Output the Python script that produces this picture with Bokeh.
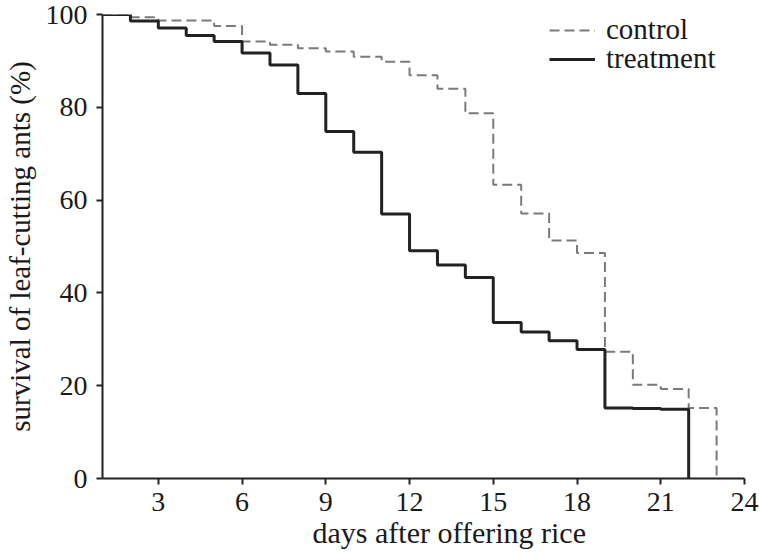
from bokeh.plotting import figure
from bokeh.models import Range1d, FixedTicker, Legend, LegendItem, Title
from bokeh.embed import file_html
from bokeh.resources import INLINE

# survival (%) at the start of each day
days = [1, 2, 3, 4, 5, 6, 7, 8, 9, 10, 11, 12, 13, 14, 15, 16, 17, 18, 19, 20, 21, 22, 23]
control = [100, 99.4, 98.7, 98.7, 97.5, 94.2, 93.5, 92.7, 92.0, 90.9, 89.8, 86.9,
           84.0, 78.7, 63.3, 57.1, 51.3, 48.6, 27.3, 20.2, 19.3, 15.2, 0]
treat_days = [1, 2, 3, 4, 5, 6, 7, 8, 9, 10, 11, 12, 13, 14, 15, 16, 17, 18, 19, 20, 21, 22]
treatment = [100, 98.6, 97.1, 95.5, 94.2, 91.7, 89.1, 83.0, 74.8, 70.3, 57.0, 49.1,
             46.0, 43.3, 33.6, 31.6, 29.7, 27.8, 15.2, 15.1, 14.9, 0]
x_ticks = [3, 6, 9, 12, 15, 18, 21, 24]
y_ticks = [0, 20, 40, 60, 80, 100]

FONT = "Liberation Serif"
TXT = "#1a1a1a"

p = figure(width=759, height=555, output_backend="svg", toolbar_location=None,
           x_range=Range1d(1, 24), y_range=Range1d(0, 100),
           min_border_left=100, min_border_right=15, min_border_top=14, min_border_bottom=77)
p.outline_line_color = None
p.grid.visible = False
p.background_fill_color = "white"

r_c = p.step(days, control, mode="after", line_color="#7a7a7a", line_width=2,
             line_dash="10 5")
r_t = p.step(treat_days, treatment, mode="after", line_color="#222222", line_width=3)

for ax in (p.xaxis[0], p.yaxis[0]):
    ax.axis_line_color = "#222222"
    ax.axis_line_width = 2
    ax.major_tick_line_color = "#222222"
    ax.major_tick_line_width = 2
    ax.major_tick_in = 0
    ax.major_tick_out = 6
    ax.minor_tick_line_color = None
    ax.major_label_text_font = FONT
    ax.major_label_text_font_size = "28px"
    ax.major_label_text_color = TXT
    ax.axis_label_text_font = FONT
    ax.axis_label_text_font_size = "29px"
    ax.axis_label_text_font_style = "normal"
    ax.axis_label_text_color = TXT

p.xaxis.ticker = FixedTicker(ticks=x_ticks)
p.yaxis.ticker = FixedTicker(ticks=y_ticks)
p.xaxis.major_label_standoff = 8
p.yaxis.major_label_standoff = 9
p.yaxis.axis_label = "survival of leaf-cutting ants (%)"
p.yaxis.axis_label_standoff = 7

xtitle = Title(text="days after offering rice", align="left", offset=210,
               standoff=0, text_font=FONT, text_font_size="30px",
               text_font_style="normal", text_color=TXT)
p.add_layout(xtitle, "below")


def make_legend(label, renderer, loc):
    lg = Legend(items=[LegendItem(label=label, renderers=[renderer])], location=loc)
    lg.label_text_font = FONT
    lg.label_text_font_size = "29px"
    lg.label_text_color = TXT
    lg.glyph_width = 46
    lg.glyph_height = 26
    lg.label_height = 26
    lg.label_standoff = 11
    lg.spacing = 0
    lg.padding = 0
    lg.margin = 0
    lg.border_line_color = None
    lg.background_fill_alpha = 0
    return lg


p.add_layout(make_legend("control", r_c, (447, 432)), "center")
p.add_layout(make_legend("treatment", r_t, (447, 403)), "center")

open("out.html", "w").write(file_html(p, INLINE))
